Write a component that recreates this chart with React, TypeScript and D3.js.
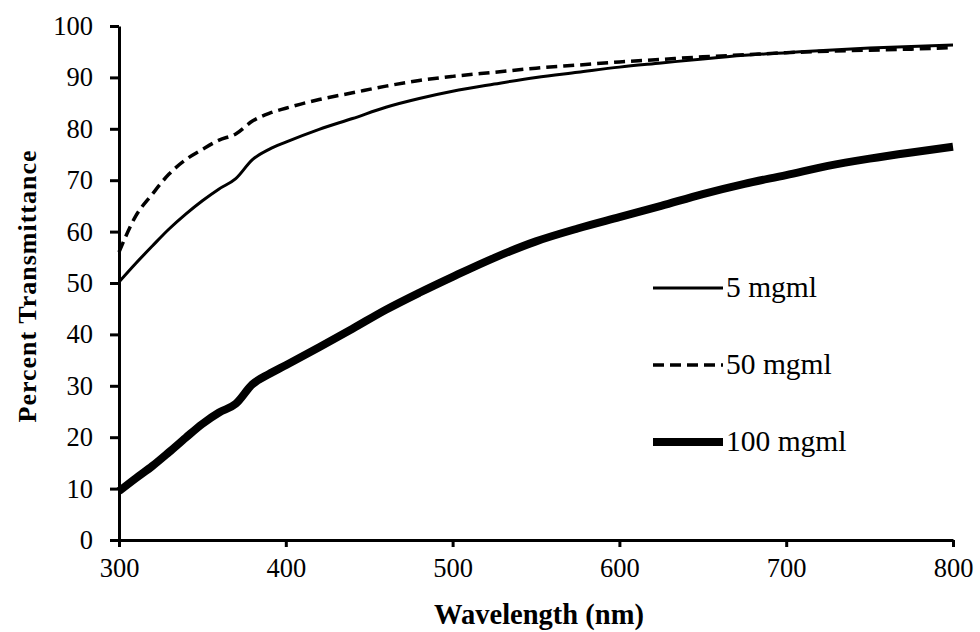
import React, { useRef, useEffect } from 'react';
import * as d3 from 'd3';

const wavelengths = [300, 310, 320, 330, 340, 350, 360, 370, 380, 390, 400, 420, 440, 460, 480, 500, 525, 550, 575, 600, 625, 650, 675, 700, 725, 750, 775, 800];

// percent transmittance for each concentration
const conc5 = [50.2, 53.8, 57.2, 60.5, 63.4, 66, 68.3, 70.3, 74, 76, 77.4, 79.9, 82, 84.2, 85.9, 87.3, 88.7, 90, 91, 92, 92.8, 93.6, 94.3, 94.8, 95.3, 95.7, 96, 96.3];
const conc50 = [56, 63, 67.3, 71.2, 74, 76, 77.8, 79, 81.5, 83, 84, 85.7, 87, 88.3, 89.4, 90.2, 91, 91.8, 92.4, 93, 93.5, 94, 94.4, 94.8, 95.1, 95.3, 95.5, 95.8];
const conc100 = [9.5, 12, 14.4, 17.1, 19.9, 22.6, 24.8, 26.5, 30.3, 32.3, 34, 37.5, 41.1, 44.8, 48.1, 51.2, 54.9, 58.1, 60.6, 62.8, 65, 67.3, 69.3, 71, 72.8, 74.2, 75.4, 76.5];

const seriesNames = ['5 mgml', '50 mgml', '100 mgml'];
const xTicks = [300, 400, 500, 600, 700, 800];
const yTicks = [0, 10, 20, 30, 40, 50, 60, 70, 80, 90, 100];

const App = () => {
    const svgRef = useRef(null);

    useEffect(() => {
        const svg = d3.select(svgRef.current);
        svg.selectAll("*").remove();

        const margin = { top: 26, right: 27, bottom: 92, left: 119 };
        const width = 980 - margin.left - margin.right;
        const height = 632 - margin.top - margin.bottom;
        const font = "'Liberation Serif', 'Times New Roman', serif";

        const x = d3.scaleLinear().domain([300, 800]).range([0, width]);
        const y = d3.scaleLinear().domain([0, 100]).range([height, 0]);

        const chart = svg.append("g").attr("transform", `translate(${margin.left},${margin.top})`);

        // series styles
        const styles = [
            { values: conc5, width: 3, dash: null },
            { values: conc50, width: 3.5, dash: "11,6" },
            { values: conc100, width: 8, dash: null }
        ];

        const line = d3.line()
            .x(d => x(d[0]))
            .y(d => y(d[1]))
            .curve(d3.curveMonotoneX);

        styles.forEach(s => {
            chart.append("path")
                .datum(wavelengths.map((w, i) => [w, s.values[i]]))
                .attr("fill", "none")
                .attr("stroke", "#000")
                .attr("stroke-width", s.width)
                .attr("stroke-dasharray", s.dash)
                .attr("stroke-linejoin", "round")
                .attr("d", line);
        });

        // X axis
        const xAxis = chart.append("g")
            .attr("transform", `translate(0,${height})`)
            .call(d3.axisBottom(x).tickValues(xTicks).tickSize(7).tickSizeOuter(0).tickPadding(11));
        xAxis.attr("font-family", font).attr("font-size", 26.5);
        xAxis.select(".domain").attr("stroke-width", 3);
        xAxis.selectAll(".tick line").attr("stroke-width", 3);
        xAxis.selectAll("text").attr("fill", "#000");

        // Y axis
        const yAxis = chart.append("g")
            .call(d3.axisLeft(y).tickValues(yTicks).tickSize(9).tickSizeOuter(0).tickPadding(17));
        yAxis.attr("font-family", font).attr("font-size", 26.5);
        yAxis.select(".domain").attr("stroke-width", 3);
        yAxis.selectAll(".tick line").attr("stroke-width", 3);
        yAxis.selectAll("text").attr("fill", "#000");

        // axis titles
        svg.append("text")
            .attr("x", margin.left + width / 2 + 3)
            .attr("y", 624)
            .attr("text-anchor", "middle")
            .attr("font-family", font)
            .attr("font-weight", "bold")
            .attr("font-size", 28.5)
            .text("Wavelength (nm)");

        svg.append("text")
            .attr("transform", `translate(36,${margin.top + height / 2 + 3}) rotate(-90)`)
            .attr("text-anchor", "middle")
            .attr("font-family", font)
            .attr("font-weight", "bold")
            .attr("font-size", 26)
            .attr("letter-spacing", 1)
            .text("Percent Transmittance");

        // legend
        const legendY = [288, 365, 442];
        styles.forEach((s, i) => {
            svg.append("line")
                .attr("x1", 653).attr("x2", 723)
                .attr("y1", legendY[i]).attr("y2", legendY[i])
                .attr("stroke", "#000")
                .attr("stroke-width", s.width)
                .attr("stroke-dasharray", s.dash);
            svg.append("text")
                .attr("x", 726)
                .attr("y", legendY[i] + 9)
                .attr("font-family", font)
                .attr("font-size", 29.5)
                .text(seriesNames[i]);
        });
    }, []);

    return <svg ref={svgRef} width={980} height={632} style={{ position: 'absolute', left: 0, top: 0, background: '#fff' }}></svg>;
};

export default App;
